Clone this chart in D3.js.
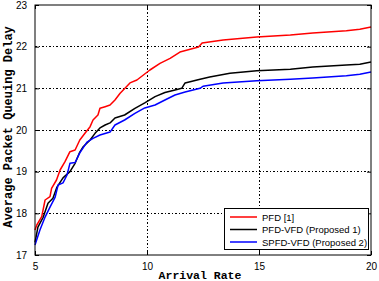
<!DOCTYPE html>
<html><head><meta charset="utf-8">
<script src="https://cdn.jsdelivr.net/npm/d3@7"></script>
<style>body{margin:0;background:#fff}svg{display:block}</style>
</head><body>
<script>
const xTicks = [5, 10, 15, 20];
const yTicks = [17, 18, 19, 20, 21, 22, 23];
const seriesNames = ["PFD [1]", "PFD-VFD (Proposed 1)", "SPFD-VFD (Proposed 2)"];
const seriesColors = ["#ff0000", "#000000", "#0000ff"];

const redX = [5, 5.08, 5.3, 5.45, 5.67, 5.74, 5.96, 6.12, 6.34, 6.56, 6.79, 7.0, 7.23, 7.46, 7.59, 7.81, 7.9, 8.13, 8.35, 8.57, 8.8, 9.24, 9.55, 10.13, 10.58, 11.03, 11.47, 12.3, 12.46, 13.4, 14.9, 16.4, 17.4, 18.9, 19.5, 20];
const redY = [17.6, 17.72, 17.92, 18.32, 18.4, 18.6, 18.8, 19.04, 19.24, 19.48, 19.52, 19.76, 19.92, 20.08, 20.24, 20.36, 20.52, 20.56, 20.6, 20.72, 20.88, 21.13, 21.2, 21.44, 21.6, 21.72, 21.87, 21.99, 22.09, 22.16, 22.23, 22.28, 22.33, 22.38, 22.42, 22.47];

const blackX = [5, 5.13, 5.36, 5.58, 5.8, 5.98, 6.25, 6.56, 6.79, 7.0, 7.14, 7.46, 7.68, 7.9, 8.13, 8.35, 8.57, 9.0, 9.46, 9.9, 10.36, 10.8, 11.25, 11.55, 11.7, 12.37, 12.8, 13.7, 14.9, 16.4, 17.4, 18.9, 19.5, 20];
const blackY = [17.3, 17.67, 17.9, 18.24, 18.36, 18.63, 18.85, 19.0, 19.2, 19.47, 19.59, 19.76, 19.92, 20.05, 20.12, 20.17, 20.29, 20.36, 20.52, 20.65, 20.8, 20.9, 20.96, 21.0, 21.13, 21.22, 21.27, 21.36, 21.42, 21.46, 21.51, 21.56, 21.58, 21.63];

const blueX = [5, 5.22, 5.45, 5.67, 5.9, 6.03, 6.25, 6.43, 6.56, 6.79, 7.0, 7.32, 7.59, 7.9, 8.35, 8.57, 9.0, 9.46, 9.9, 10.36, 10.8, 11.25, 11.7, 12.37, 12.5, 13.4, 14.9, 16.4, 17.4, 18.9, 19.5, 20];
const blueY = [17.24, 17.6, 17.91, 18.15, 18.39, 18.68, 18.73, 18.92, 19.2, 19.22, 19.45, 19.71, 19.8, 19.88, 19.95, 20.12, 20.24, 20.4, 20.53, 20.6, 20.72, 20.84, 20.91, 21.0, 21.05, 21.13, 21.18, 21.22, 21.25, 21.3, 21.34, 21.39];

const W = 379, H = 281;
const L = 35, R = 371, T = 5, B = 255;
const svg = d3.select("body").append("svg").attr("width", W).attr("height", H);
const x = d3.scaleLinear().domain([5, 20]).range([L, R]);
const y = d3.scaleLinear().domain([17, 23]).range([B, T]);

// grid
const g = svg.append("g");
g.selectAll(".gx").data(xTicks.slice(1, -1)).enter().append("line")
  .attr("x1", d => x(d)).attr("x2", d => x(d)).attr("y1", T).attr("y2", B)
  .attr("stroke", "#000").attr("stroke-width", 1).attr("stroke-dasharray", "1.5,2").attr("shape-rendering", "crispEdges");
g.selectAll(".gy").data(yTicks.slice(1, -1)).enter().append("line")
  .attr("y1", d => y(d)).attr("y2", d => y(d)).attr("x1", L).attr("x2", R)
  .attr("stroke", "#000").attr("stroke-width", 1).attr("stroke-dasharray", "1.5,2").attr("shape-rendering", "crispEdges");

// axes
const fmt = d3.format("d");
const xAxis = d3.axisBottom(x).tickValues(xTicks).tickFormat(fmt).tickSize(-4).tickPadding(8);
const yAxis = d3.axisLeft(y).tickValues(yTicks).tickFormat(fmt).tickSize(-4).tickPadding(8);
const gx = svg.append("g").attr("transform", `translate(0,${B})`).call(xAxis);
const gy = svg.append("g").attr("transform", `translate(${L},0)`).call(yAxis);
[gx, gy].forEach(a => {
  a.select(".domain").remove();
  a.selectAll("text").attr("font-family", "Liberation Sans, Arial, sans-serif").attr("font-size", 10).attr("fill", "#000");
  a.selectAll("line").attr("stroke", "#000");
});
svg.append("g").attr("transform", `translate(0,${T})`).call(d3.axisTop(x).tickValues(xTicks).tickSize(-4).tickFormat(""))
  .call(a => { a.select(".domain").remove(); });
svg.append("g").attr("transform", `translate(${R},0)`).call(d3.axisRight(y).tickValues(yTicks).tickSize(-4).tickFormat(""))
  .call(a => { a.select(".domain").remove(); });

// series
const series = [[redX, redY], [blackX, blackY], [blueX, blueY]];
const line = d3.line().x(d => x(d[0])).y(d => y(d[1]));
series.forEach((s, i) => {
  const pts = s[0].map((v, j) => [v, s[1][j]]);
  svg.append("path").datum(pts).attr("d", line).attr("fill", "none")
    .attr("stroke", seriesColors[i]).attr("stroke-width", 1.5).attr("stroke-linejoin", "round");
});

// box
svg.append("rect").attr("x", L).attr("y", T).attr("width", R - L).attr("height", B - T)
  .attr("fill", "none").attr("stroke", "#000").attr("stroke-width", 1);

// labels
svg.append("text").attr("x", 200).attr("y", 279).attr("text-anchor", "middle")
  .attr("font-family", "Liberation Mono, Courier New, monospace").attr("font-weight", "bold").attr("font-size", 11.5)
  .text("Arrival Rate");
svg.append("text").attr("transform", `translate(12,127) rotate(-90)`).attr("text-anchor", "middle")
  .attr("font-family", "Liberation Mono, Courier New, monospace").attr("font-weight", "bold").attr("font-size", 12)
  .text("Average Packet Queuing Delay");

// legend
const lg = svg.append("g");
lg.append("rect").attr("x", 224.5).attr("y", 208.5).attr("width", 144).attr("height", 41)
  .attr("fill", "#fff").attr("stroke", "#000").attr("stroke-width", 1);
seriesNames.forEach((n, i) => {
  const yy = 217 + i * 12.5;
  lg.append("line").attr("x1", 230).attr("x2", 257).attr("y1", yy).attr("y2", yy)
    .attr("stroke", seriesColors[i]).attr("stroke-width", 1.5);
  lg.append("text").attr("x", 262).attr("y", yy + 3.5)
    .attr("font-family", "Liberation Sans, Arial, sans-serif").attr("font-size", 9.5).text(n);
});
</script>
</body></html>
